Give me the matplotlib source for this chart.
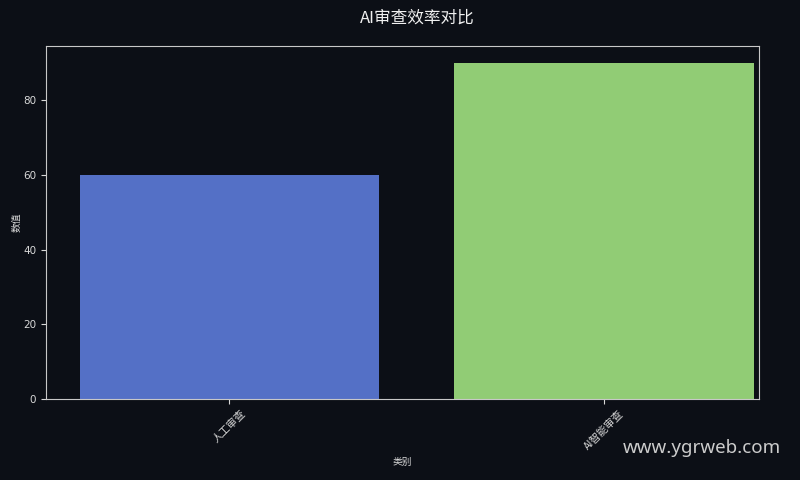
"""AI review efficiency comparison bar chart."""
import matplotlib
matplotlib.use('Agg')
import matplotlib.pyplot as plt

plt.rcParams['font.family'] = ['Noto Sans CJK SC', 'DejaVu Sans']

categories = ['人工审查', 'AI智能审查']
values = [60, 90]
colors = ['#5470c6', '#91cc75']

bg = '#0c0f16'
fg = '#d8d8d8'


def main():
    fig = plt.figure(figsize=(8, 4.8), dpi=100, facecolor=bg)
    ax = fig.add_axes([46 / 800, 81 / 480, 713 / 800, 353 / 480])
    ax.set_facecolor(bg)
    x = list(range(len(categories)))
    ax.bar(x, values, width=0.8, color=colors, edgecolor='none')
    ax.set_xlim(-0.49, 1.414)
    ax.set_ylim(0, 94.5)
    ax.set_xticks(x)
    ax.set_xticklabels(categories, rotation=45, fontsize=7.5, color=fg)
    ax.set_yticks([0, 20, 40, 60, 80])
    ax.tick_params(axis='y', labelsize=7.5, colors=fg)
    ax.tick_params(axis='x', colors=fg)
    for lbl in ax.get_yticklabels():
        lbl.set_family('DejaVu Sans')
    for s in ax.spines.values():
        s.set_color('#c8c8c8')
        s.set_linewidth(0.8)
    ax.set_xlabel('类别', fontsize=7, color=fg)
    ax.set_ylabel('数值', fontsize=7, color=fg, labelpad=1.5)
    fig.text(0.522, 0.962, 'AI审查效率对比', ha='center', va='center',
             fontsize=12, color='#f0f0f0')
    fig.text(0.976, 0.066, 'www.ygrweb.com', ha='right', va='center',
             fontsize=13.5, color='#cccccc', family='Noto Sans')
    fig.savefig('out.png', dpi=100, facecolor=bg)


if __name__ == '__main__':
    main()
